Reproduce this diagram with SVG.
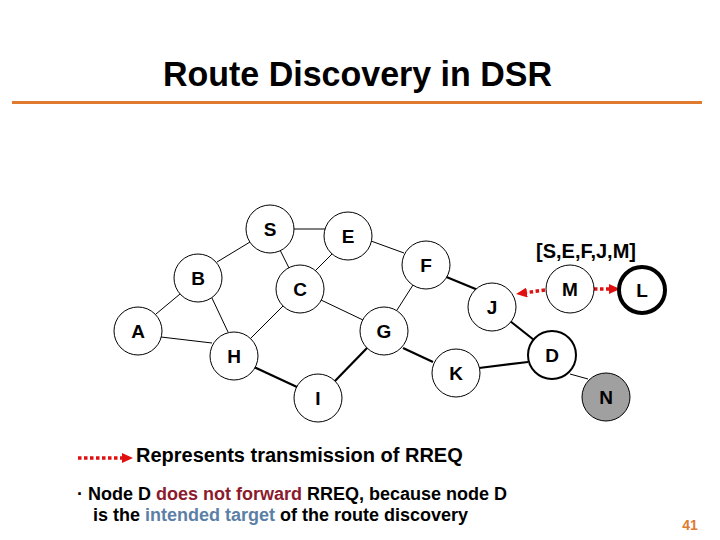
<svg xmlns="http://www.w3.org/2000/svg" width="720" height="540" viewBox="0 0 720 540">
<defs>
<style>
text{font-family:"Liberation Sans",Arial,sans-serif;font-weight:bold;}
.node circle{fill:#fff;stroke:#000;stroke-width:1;}
.node text{font-size:19px;text-anchor:middle;fill:#000;}
.thin{stroke:#000;stroke-width:1;fill:none;}
.thick{stroke:#000;stroke-width:2.2;fill:none;}
.rreq{stroke:#E01010;stroke-width:3.5;stroke-dasharray:3.5 2.5;fill:none;marker-end:url(#ah);}
</style>
<marker id="ah" markerUnits="userSpaceOnUse" markerWidth="11" markerHeight="10" refX="0" refY="5" orient="auto">
<path d="M0,0 L11,5 L0,10 z" fill="#E01010"/>
</marker>
</defs>
<rect width="720" height="540" fill="#fff"/>
<text x="357.5" y="86" font-size="35" text-anchor="middle" textLength="389" lengthAdjust="spacingAndGlyphs">Route Discovery in DSR</text>
<line x1="12" y1="102.5" x2="702" y2="102.5" stroke="#E07A2E" stroke-width="3"/>
<g id="connectors">
<line class="thin" x1="293" y1="229" x2="325" y2="229"/>
<line class="thin" x1="250" y1="242" x2="217" y2="262"/>
<line class="thin" x1="280" y1="250" x2="289" y2="268"/>
<line class="thin" x1="332" y1="254" x2="315" y2="271"/>
<line class="thin" x1="371" y1="241" x2="404" y2="253"/>
<line class="thin" x1="180" y1="294" x2="156" y2="314"/>
<line class="thin" x1="211" y1="296" x2="228" y2="332"/>
<line class="thin" x1="161" y1="337" x2="212" y2="343"/>
<line class="thin" x1="283" y1="306" x2="251" y2="338"/>
<line class="thin" x1="321" y1="300" x2="363" y2="320"/>
<line class="thin" x1="413" y1="285" x2="397" y2="310"/>
<line class="thick" x1="254" y1="367" x2="297" y2="387"/>
<line class="thick" x1="335" y1="381" x2="367" y2="348"/>
<line class="thick" x1="444" y1="276" x2="478" y2="290"/>
<line class="thick" x1="403" y1="348" x2="433" y2="362"/>
<line class="thick" x1="479" y1="368" x2="528" y2="362"/>
<line class="thick" x1="510" y1="321" x2="534" y2="340"/>
<line class="thin" x1="570" y1="374" x2="588" y2="379"/>
<line class="rreq" x1="545" y1="290" x2="527" y2="292.5"/>
<line class="rreq" x1="594" y1="289" x2="609" y2="289"/>
</g>
<g id="node-S" class="node"><circle cx="270" cy="229" r="24"/><text x="270" y="236">S</text></g>
<g id="node-E" class="node"><circle cx="348" cy="236" r="24"/><text x="348" y="243">E</text></g>
<g id="node-B" class="node"><circle cx="198" cy="278" r="24"/><text x="198" y="285">B</text></g>
<g id="node-C" class="node"><circle cx="300" cy="289" r="24"/><text x="300" y="296">C</text></g>
<g id="node-A" class="node"><circle cx="138" cy="331" r="24"/><text x="138" y="338">A</text></g>
<g id="node-H" class="node"><circle cx="234" cy="356" r="24"/><text x="234" y="363">H</text></g>
<g id="node-I" class="node"><circle cx="318" cy="398" r="24"/><text x="318" y="405">I</text></g>
<g id="node-G" class="node"><circle cx="384" cy="331" r="24"/><text x="384" y="338">G</text></g>
<g id="node-F" class="node"><circle cx="426" cy="265" r="24"/><text x="426" y="272">F</text></g>
<g id="node-J" class="node"><circle cx="492" cy="307" r="24"/><text x="492" y="314">J</text></g>
<g id="node-K" class="node"><circle cx="456" cy="373" r="24"/><text x="456" y="380">K</text></g>
<g id="node-M" class="node"><circle cx="570" cy="289" r="24"/><text x="570" y="296">M</text></g>
<g id="node-L" class="node"><circle cx="642" cy="290" r="23" style="stroke-width:4"/><text x="642" y="297">L</text></g>
<g id="node-D" class="node"><circle cx="552" cy="355" r="24" style="stroke-width:2"/><text x="552" y="362">D</text></g>
<g id="node-N" class="node"><circle cx="606" cy="397" r="24" style="fill:#A0A0A0"/><text x="606" y="404">N</text></g>
<text x="586" y="258" font-size="20" text-anchor="middle">[S,E,F,J,M]</text>
<g id="legend">
<line class="rreq" x1="78" y1="458" x2="122" y2="458"/>
<text x="136" y="462" font-size="20">Represents transmission of RREQ</text>
</g>
<text x="77" y="500" font-size="18">· Node D <tspan fill="#8B1A2E">does not forward</tspan> RREQ, because node D</text>
<text x="93" y="521" font-size="18">is the <tspan fill="#5B7FA6">intended target</tspan> of the route discovery</text>
<text x="690" y="530" font-size="14" text-anchor="middle" fill="#E07A2E">41</text>
</svg>
